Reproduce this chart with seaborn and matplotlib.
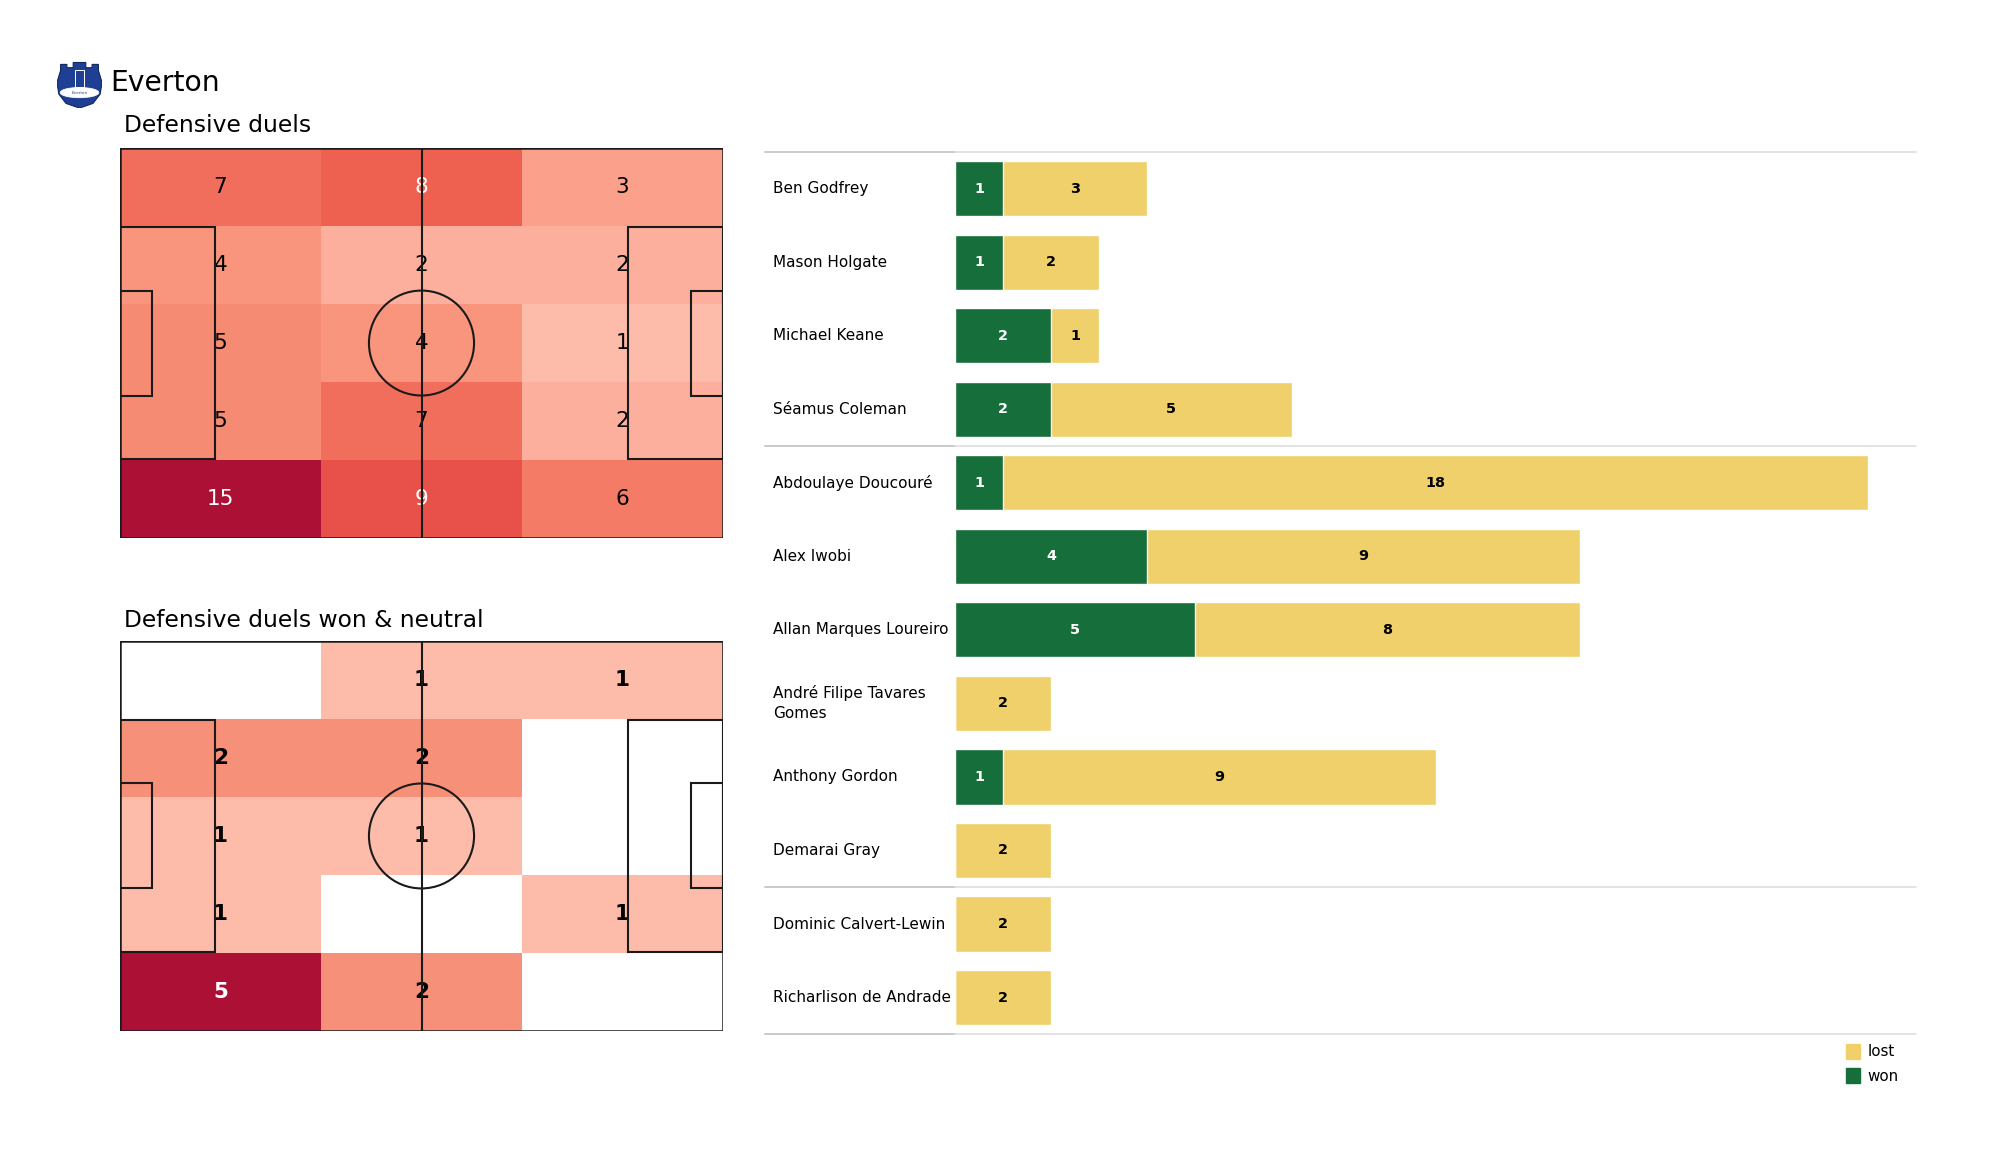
import numpy as np
import pandas as pd
import matplotlib
matplotlib.use("Agg")
import matplotlib.pyplot as plt
import matplotlib.transforms as mtransforms
import seaborn as sns
from matplotlib.colors import LinearSegmentedColormap
from matplotlib.patches import Rectangle, Circle, Polygon, Patch, Ellipse

# ---------------- data ----------------
team = "Everton"
title_all = "Defensive duels"
title_won = "Defensive duels won & neutral"

# 5 rows (top -> bottom) x 3 columns (left -> right)
duels_grid = [[7, 8, 3],
              [4, 2, 2],
              [5, 4, 1],
              [5, 7, 2],
              [15, 9, 6]]
won_neutral_grid = [[0, 1, 1],
                    [2, 2, 0],
                    [1, 1, 0],
                    [1, 0, 1],
                    [5, 2, 0]]

players = ["Ben Godfrey", "Mason Holgate", "Michael Keane", "Séamus Coleman",
           "Abdoulaye Doucouré", "Alex Iwobi", "Allan Marques Loureiro",
           "André Filipe Tavares Gomes", "Anthony Gordon", "Demarai Gray",
           "Dominic Calvert-Lewin", "Richarlison de Andrade"]
player_labels = ["Ben Godfrey", "Mason Holgate", "Michael Keane", "Séamus Coleman",
                 "Abdoulaye Doucouré", "Alex Iwobi", "Allan Marques Loureiro",
                 "André Filipe Tavares\nGomes", "Anthony Gordon", "Demarai Gray",
                 "Dominic Calvert-Lewin", "Richarlison de Andrade"]
won = [1, 1, 2, 2, 1, 4, 5, 0, 1, 0, 0, 0]
lost = [3, 2, 1, 5, 18, 9, 8, 2, 9, 2, 2, 2]
group_sizes = [4, 6, 2]  # defenders, midfielders, forwards

GREEN = "#166E3A"
YELLOW = "#F0D06A"

# ---------------- style ----------------
sns.set_theme(style="white")
plt.rcParams['font.family'] = ['DejaVu Sans']
plt.rcParams['text.color'] = 'black'

fig = plt.figure(figsize=(20, 11.75), dpi=100)

heat_colors = ["#FDBBAA", "#FCAF9C", "#FBA08A", "#F8957C", "#F68B74",
               "#F47B66", "#F26E5C", "#EE6150", "#E8504A", "#AD1035"]
heat_pos = [0, 1/14, 2/14, 3/14, 4/14, 5/14, 6/14, 7/14, 8/14, 1]
cmap = LinearSegmentedColormap.from_list("duels", list(zip(heat_pos, heat_colors)))


def draw_pitch_lines(pax):
    lc = "#1a1a1a"
    lw = 1.5
    pax.set_xlim(0, 105)
    pax.set_ylim(0, 68)
    pax.set_axis_off()
    pax.add_patch(Rectangle((0, 0), 105, 68, fill=False, ec=lc, lw=lw + 0.3))
    pax.plot([52.5, 52.5], [0, 68], color=lc, lw=lw)
    pax.add_patch(Circle((52.5, 34), 9.15, fill=False, ec=lc, lw=lw))
    pax.add_patch(Rectangle((0, 13.84), 16.5, 40.32, fill=False, ec=lc, lw=lw))
    pax.add_patch(Rectangle((88.5, 13.84), 16.5, 40.32, fill=False, ec=lc, lw=lw))
    pax.add_patch(Rectangle((0, 24.84), 5.5, 18.32, fill=False, ec=lc, lw=lw))
    pax.add_patch(Rectangle((99.5, 24.84), 5.5, 18.32, fill=False, ec=lc, lw=lw))


def draw_pitch_heat(rect, grid, bold):
    arr = np.array(grid)
    vmin = arr[arr > 0].min()
    vmax = arr.max()
    ax = fig.add_axes(rect)
    sns.heatmap(arr, mask=(arr == 0), cmap=cmap, vmin=vmin, vmax=vmax,
                cbar=False, xticklabels=False, yticklabels=False, ax=ax)
    ax.set_xlim(0, arr.shape[1])
    ax.set_ylim(arr.shape[0], 0)
    ax.set_axis_off()
    for i in range(arr.shape[0]):
        for j in range(arr.shape[1]):
            v = arr[i, j]
            if v > 0:
                nv = (v - vmin) / (vmax - vmin)
                ax.text(j + 0.5, i + 0.5, str(v), ha="center", va="center",
                        fontsize=15.5, color="white" if nv >= 0.5 else "black",
                        fontweight="bold" if bold else "normal")
    pax = fig.add_axes(rect, facecolor="none")
    draw_pitch_lines(pax)


top_rect = [0.060, 0.5421, 0.3015, 0.3319]
bot_rect = [0.060, 0.1226, 0.3015, 0.3319]
draw_pitch_heat(top_rect, duels_grid, bold=False)
draw_pitch_heat(bot_rect, won_neutral_grid, bold=True)

fig.text(0.062, 0.8936, title_all, fontsize=16.8, ha="left", va="center")
fig.text(0.062, 0.4723, title_won, fontsize=16.8, ha="left", va="center")
fig.text(0.055, 0.9294, team, fontsize=20.3, ha="left", va="center")

# ---------------- logo (simple crest) ----------------
lax = fig.add_axes([0.0285, 0.908, 0.0225, 0.040])
lax.set_xlim(0, 1)
lax.set_ylim(0, 1)
lax.set_axis_off()
shield = [(0.08, 0.80), (0.08, 0.93), (0.22, 0.93), (0.22, 0.86), (0.36, 0.86),
          (0.36, 0.97), (0.64, 0.97), (0.64, 0.86), (0.78, 0.86), (0.78, 0.93),
          (0.92, 0.93), (0.92, 0.80), (1.0, 0.55), (0.96, 0.30), (0.80, 0.10),
          (0.5, 0.0), (0.20, 0.10), (0.04, 0.30), (0.0, 0.55)]
lax.add_patch(Polygon(shield, closed=True, fc="#1E3F94", ec="#10275e", lw=0.8))
lax.add_patch(Polygon([(0.40, 0.45), (0.40, 0.80), (0.60, 0.80), (0.60, 0.45)],
                      closed=True, fc="none", ec="white", lw=0.7))
lax.add_patch(Ellipse((0.5, 0.33), 0.86, 0.22, fc="white", ec="white", lw=0.5))
lax.text(0.5, 0.33, "Everton", fontsize=3.0, color="#1E3F94", ha="center", va="center")

# ---------------- bars ----------------
bx = fig.add_axes([0.3825, 0.1197, 0.5755, 0.7511])
df = pd.DataFrame({"player": players, "won": won, "lost": lost})
df["total"] = df["won"] + df["lost"]
sns.barplot(data=df, x="total", y="player", color=YELLOW, saturation=1,
            width=0.75, orient="h", ax=bx)
sns.barplot(data=df, x="won", y="player", color=GREEN, saturation=1,
            width=0.75, orient="h", ax=bx)
left_ext = 3.96
bx.set_xlim(-left_ext, 20)
bx.set_ylim(len(players) - 0.5, -0.5)
bx.set_xticks([])
bx.set_yticks([])
bx.set_xlabel("")
bx.set_ylabel("")
for s in bx.spines.values():
    s.set_visible(False)

trans = mtransforms.blended_transform_factory(bx.transAxes, bx.transData)
for i, (lab, w, l) in enumerate(zip(player_labels, df["won"], df["lost"])):
    bx.text(0.007, i, lab, transform=trans, ha="left", va="center",
            fontsize=11, linespacing=1.4)
    if w > 0:
        bx.text(w / 2, i, str(w), ha="center", va="center", fontsize=10.4,
                fontweight="bold", color="white")
    if l > 0:
        bx.text(w + l / 2, i, str(l), ha="center", va="center", fontsize=10.4,
                fontweight="bold", color="black")

split = left_ext / (left_ext + 20)
bounds = [-0.5] + list(np.cumsum(group_sizes) - 0.5)
for y in bounds:
    bx.axhline(y, xmin=0, xmax=split, color="#c9c9c9", lw=1.4, clip_on=False)
    bx.axhline(y, xmin=split, xmax=1, color="#dedede", lw=1.2, clip_on=False)

fig.legend(handles=[Patch(color=YELLOW, label="lost"), Patch(color=GREEN, label="won")],
           loc="upper left", bbox_to_anchor=(0.923, 0.1115), frameon=False,
           fontsize=10.9, handlelength=0.9, handleheight=1.1, handletextpad=0.5,
           labelspacing=0.6, borderaxespad=0, borderpad=0)

fig.savefig("out.png", dpi=100)
